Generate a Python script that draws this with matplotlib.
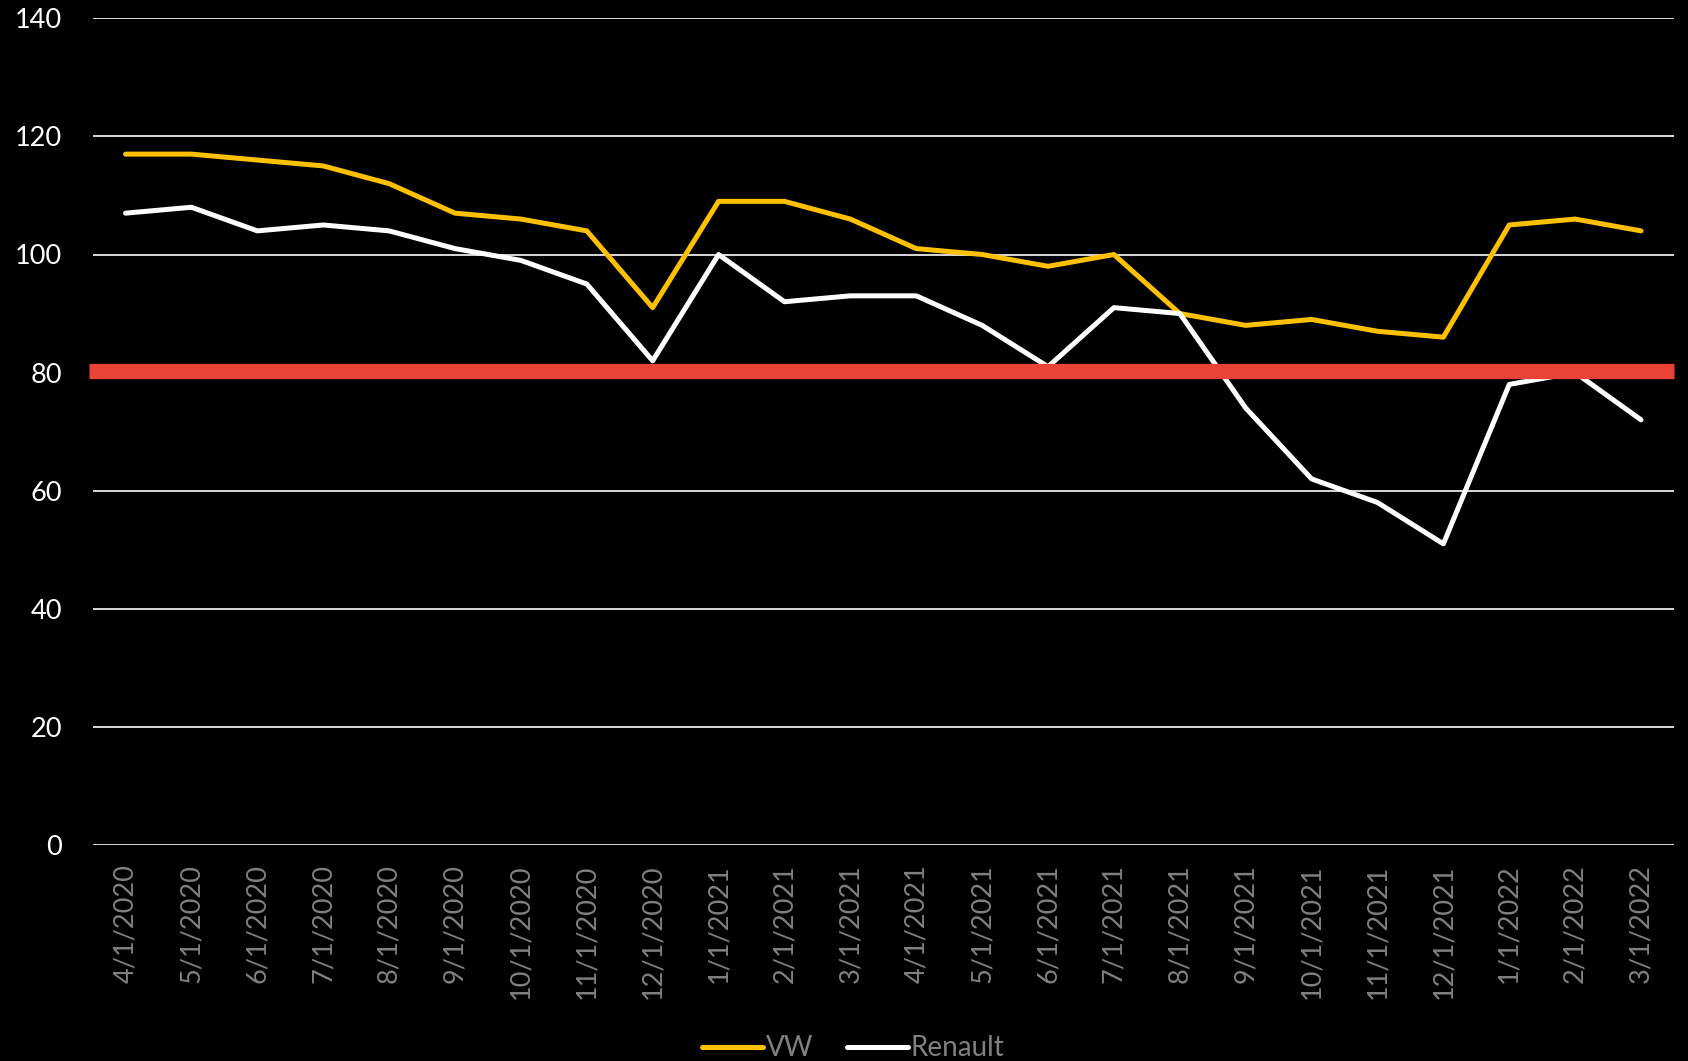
import matplotlib.pyplot as plt

months = ["4/1/2020", "5/1/2020", "6/1/2020", "7/1/2020", "8/1/2020", "9/1/2020",
          "10/1/2020", "11/1/2020", "12/1/2020", "1/1/2021", "2/1/2021", "3/1/2021",
          "4/1/2021", "5/1/2021", "6/1/2021", "7/1/2021", "8/1/2021", "9/1/2021",
          "10/1/2021", "11/1/2021", "12/1/2021", "1/1/2022", "2/1/2022", "3/1/2022"]
vw = [117, 117, 116, 115, 112, 107, 106, 104, 91, 109, 109, 106,
      101, 100, 98, 100, 90, 88, 89, 87, 86, 105, 106, 104]
renault = [107, 108, 104, 105, 104, 101, 99, 95, 82, 100, 92, 93,
           93, 88, 81, 91, 90, 74, 62, 58, 51, 78, 80, 72]
threshold = 80

plt.rcParams["font.family"] = ["Lato", "DejaVu Sans"]

fig = plt.figure(figsize=(16.88, 10.61), dpi=100, facecolor="black")
ax = fig.add_axes([92.6 / 1688, 1 - 845 / 1061, (1674 - 92.6) / 1688, (845 - 18.3) / 1061])
ax.set_facecolor("black")

x = range(len(months))
ax.plot(x, vw, color="#FFC000", lw=3.6, label="VW", solid_capstyle="round", zorder=3)
ax.plot(x, renault, color="white", lw=3.6, label="Renault", solid_capstyle="round", zorder=3)
ax.axhline(threshold + 0.3, xmin=-0.002, xmax=1.0, color="#EA4335", lw=11,
           solid_capstyle="butt", zorder=4, clip_on=False)

ax.set_xlim(-0.5, len(months) - 0.5)
ax.set_ylim(0, 140)
ax.set_yticks(range(0, 141, 20))
ax.set_xticks(list(x))
ax.set_xticklabels(months, rotation=90, color="#808080", fontsize=19.5)
ax.tick_params(axis="y", colors="white", labelsize=19.5, length=0, pad=22)
ax.tick_params(axis="x", length=0, pad=14)
ax.grid(axis="y", color="#d9d9d9", lw=1.4, zorder=1)
for s in ax.spines.values():
    s.set_visible(False)

leg = fig.legend(loc="lower center", bbox_to_anchor=(853 / 1688, -0.024), ncol=2,
                 frameon=False, fontsize=20, handlelength=2.2, handletextpad=0.1,
                 columnspacing=1.2)
for t in leg.get_texts():
    t.set_color("#808080")

fig.savefig("out.png", dpi=100, facecolor="black")
